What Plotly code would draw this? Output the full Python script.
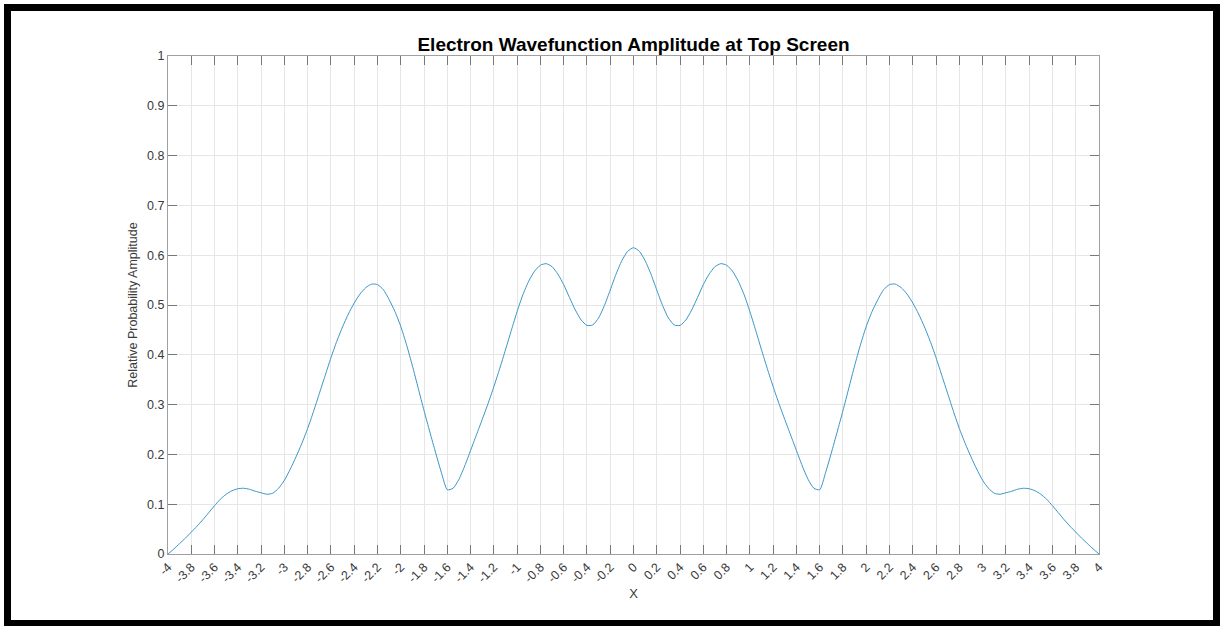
import plotly.graph_objects as go

# sample positions along the screen (step 0.05)
x_vals = [round(-4 + 0.05 * i, 2) for i in range(161)]

amplitude_left = [0.000, 0.010, 0.021, 0.032, 0.044, 0.056, 0.069, 0.083, 0.097, 0.110,
                  0.120, 0.127, 0.131, 0.132, 0.130, 0.126, 0.123, 0.120, 0.122, 0.132,
                  0.148, 0.170, 0.195, 0.222, 0.252, 0.286, 0.322, 0.358, 0.394, 0.427,
                  0.456, 0.482, 0.504, 0.522, 0.535, 0.542, 0.541, 0.531, 0.511, 0.487,
                  0.457, 0.420, 0.378, 0.333, 0.288, 0.245, 0.203, 0.163, 0.129, 0.132,
                  0.150, 0.177, 0.208, 0.239, 0.270, 0.302, 0.336, 0.372, 0.410, 0.449,
                  0.487, 0.521, 0.548, 0.568, 0.580, 0.583, 0.577, 0.562, 0.541, 0.515,
                  0.490, 0.470, 0.459, 0.460, 0.474, 0.499, 0.530, 0.562, 0.589, 0.608]
amplitude_center = [0.615]
amplitude_right = [0.608, 0.589, 0.562, 0.530, 0.499, 0.474, 0.460, 0.459, 0.470, 0.490,
                   0.515, 0.541, 0.562, 0.577, 0.583, 0.580, 0.568, 0.548, 0.521, 0.487,
                   0.449, 0.410, 0.372, 0.336, 0.302, 0.270, 0.239, 0.208, 0.177, 0.150,
                   0.132, 0.129, 0.163, 0.203, 0.245, 0.288, 0.333, 0.378, 0.420, 0.457,
                   0.487, 0.511, 0.531, 0.541, 0.542, 0.535, 0.522, 0.504, 0.482, 0.456,
                   0.427, 0.394, 0.358, 0.322, 0.286, 0.252, 0.222, 0.195, 0.170, 0.148,
                   0.132, 0.122, 0.120, 0.123, 0.126, 0.130, 0.132, 0.131, 0.127, 0.120,
                   0.110, 0.097, 0.083, 0.069, 0.056, 0.044, 0.032, 0.021, 0.010, 0.000]
amplitude = amplitude_left + amplitude_center + amplitude_right

x_ticks = [round(-4 + 0.2 * i, 1) for i in range(41)]
x_tick_labels = ["0" if abs(t) < 1e-9 else ("%g" % t) for t in x_ticks]
y_ticks = [0, 0.1, 0.2, 0.3, 0.4, 0.5, 0.6, 0.7, 0.8, 0.9, 1]
y_tick_labels = ["0", "0.1", "0.2", "0.3", "0.4", "0.5", "0.6", "0.7", "0.8", "0.9", "1"]

W, H = 1220, 626
L, R, T, B = 168, 121, 56, 72
pw, ph = W - L - R, H - T - B
FONT = "Liberation Sans, Arial, sans-serif"

fig = go.Figure()
fig.add_trace(go.Scatter(x=x_vals, y=amplitude, mode="lines",
                         line=dict(color="#3a95c8", width=1, shape="spline", smoothing=0.6),
                         showlegend=False, hoverinfo="skip"))

axis_common = dict(showline=True, linecolor="#a0a0a0", linewidth=1, mirror="ticks",
                   ticks="inside", ticklen=9, tickcolor="#777777", tickwidth=1,
                   showgrid=True, gridcolor="#e6e6e6", gridwidth=1, zeroline=False,
                   tickfont=dict(family=FONT, size=12.5, color="#3a3a3a"))

fig.update_xaxes(range=[-4, 4], tickvals=x_ticks, ticktext=x_tick_labels, tickangle=-45,
                 title=dict(text="X", font=dict(family=FONT, size=13, color="#3a3a3a"), standoff=4),
                 **axis_common)
fig.update_yaxes(range=[0, 1], tickvals=y_ticks, ticktext=y_tick_labels,
                 title=dict(text="Relative Probability Amplitude", font=dict(family=FONT, size=12.5, color="#3a3a3a"), standoff=6),
                 **axis_common)

def px_to_paper_x(px):
    return (px - L) / pw

def px_to_paper_y(py):
    return (H - B - py) / ph

fig.add_shape(type="rect", xref="paper", yref="paper",
              x0=px_to_paper_x(7.5), x1=px_to_paper_x(1216.5),
              y0=px_to_paper_y(623.5), y1=px_to_paper_y(7.5),
              line=dict(color="black", width=7), fillcolor="rgba(0,0,0,0)", layer="above")

fig.update_layout(
    width=W, height=H, autosize=False,
    margin=dict(l=L, r=R, t=T, b=B, pad=0),
    paper_bgcolor="white", plot_bgcolor="white",
    title=dict(text="<b>Electron Wavefunction Amplitude at Top Screen</b>",
               font=dict(family=FONT, size=19, color="black"),
               x=(L + pw / 2) / W, xanchor="center", y=1 - 44 / H, yanchor="middle"),
)

fig.write_html("out.html", config={"displayModeBar": False},
               post_script="document.body.style.margin='0';document.body.style.overflow='hidden';")
